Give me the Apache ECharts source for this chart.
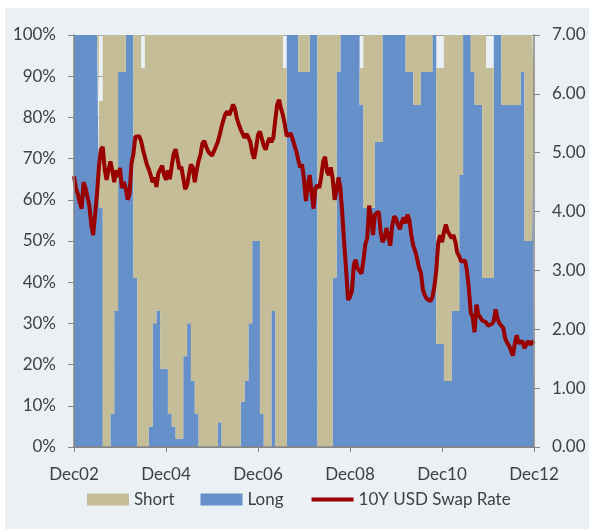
<!DOCTYPE html>
<html>
<head>
<meta charset="utf-8">
<script src="https://cdn.jsdelivr.net/npm/echarts@6/dist/echarts.min.js"></script>
<style>
  html, body { margin: 0; padding: 0; background: #ffffff; }
  #chart { position: absolute; left: 5px; top: 8px; width: 584px; height: 521px; }
</style>
</head>
<body>
<div id="chart"></div>
<script>
// monthly positioning share (%), Dec02 .. Dec12
const longShare = [
  100, 100, 100, 100, 100, 100, 100, 58, 0, 0,
  8, 33, 91, 91, 100, 100, 41, 0, 0, 0,
  5, 30, 33, 19, 19, 8, 5, 2, 2, 22,
  30, 16, 8, 0, 0, 0, 0, 0, 6, 0,
  0, 0, 0, 0, 11, 16, 30, 50, 50, 8,
  0, 0, 33, 0, 0, 0, 100, 100, 100, 91,
  91, 91, 100, 100, 0, 0, 0, 0, 41, 91,
  100, 100, 100, 100, 100, 83, 58, 58, 58, 74,
  74, 100, 100, 100, 100, 100, 100, 91, 91, 83,
  83, 91, 91, 91, 100, 25, 25, 16, 16, 33,
  33, 66, 100, 100, 91, 83, 83, 41, 41, 41,
  100, 100, 83, 83, 83, 83, 83, 91, 50, 50,
  91
];
const shortShare = [
  0, 0, 0, 0, 0, 0, 0, 26, 100, 100,
  92, 67, 9, 9, 0, 0, 59, 100, 92, 100,
  95, 70, 67, 81, 81, 92, 95, 98, 98, 78,
  70, 84, 92, 100, 100, 100, 100, 100, 94, 100,
  100, 100, 100, 100, 89, 84, 70, 50, 50, 92,
  100, 100, 67, 100, 100, 92, 0, 0, 0, 9,
  9, 9, 0, 0, 100, 100, 100, 100, 59, 9,
  0, 0, 0, 0, 0, 9, 42, 42, 42, 26,
  26, 0, 0, 0, 0, 0, 0, 9, 9, 17,
  17, 9, 9, 9, 0, 67, 67, 84, 84, 67,
  67, 34, 0, 0, 9, 17, 17, 59, 51, 51,
  0, 0, 17, 17, 17, 17, 17, 9, 50, 50,
  9
];
// 10Y USD swap rate, twice a month, Dec02 .. Dec12
const swapRate = [
  4.60, 4.40, 4.30, 4.15, 4.05, 4.50, 4.40, 4.25, 4.10, 3.78,
  3.60, 3.62, 4.30, 4.76, 5.05, 5.10, 4.72, 4.54, 4.71, 4.85,
  4.70, 4.50, 4.70, 4.59, 4.74, 4.40, 4.50, 4.40, 4.20, 4.30,
  4.82, 4.98, 5.27, 5.30, 5.28, 5.20, 5.05, 5.02, 4.80, 4.72,
  4.62, 4.50, 4.58, 4.42, 4.65, 4.68, 4.78, 4.62, 4.54, 4.70,
  4.55, 4.78, 4.98, 5.06, 4.90, 4.72, 4.76, 4.57, 4.38, 4.45,
  4.63,
  4.80, 4.75, 4.50, 4.70, 4.86, 4.97, 5.16, 5.20, 5.10, 5.02,
  5.05, 4.95, 4.98, 5.10, 5.18, 5.30, 5.44, 5.56, 5.66, 5.70,
  5.64, 5.72, 5.82, 5.74, 5.58, 5.48, 5.39, 5.32, 5.25, 5.32,
  5.26, 5.18, 5.00, 4.90, 5.08, 5.30, 5.36, 5.24, 5.12, 5.05,
  5.17, 5.25, 5.18, 5.25, 5.55, 5.82, 5.90, 5.75, 5.64, 5.48,
  5.28, 5.26, 5.33, 5.24, 5.24, 5.02, 4.88, 4.75, 4.80, 4.55,
  4.18, 4.45, 4.62, 4.31, 4.05, 4.40, 4.45, 4.40, 4.60, 4.85,
  4.93, 4.68, 4.62, 4.75, 4.55, 4.20, 4.36, 4.58, 4.40, 3.95,
  3.45, 3.00, 2.50, 2.55, 2.65, 3.10, 3.18, 3.03, 3.05, 2.95,
  3.17, 3.44, 3.55, 4.10, 3.90, 3.60, 3.95, 3.92, 4.00, 3.65,
  3.48, 3.55, 3.72, 3.58, 3.42, 3.75, 3.92, 3.88, 3.78, 3.70,
  3.82, 3.90, 3.80, 3.95, 3.85, 3.60, 3.42, 3.33, 3.20, 3.05,
  2.96, 2.68, 2.58, 2.52, 2.55, 2.48, 2.55, 2.72, 3.00, 3.46,
  3.60, 3.48, 3.65, 3.78, 3.66, 3.65, 3.55, 3.60, 3.48, 3.30,
  3.24, 3.15, 3.12, 3.17, 3.00, 2.70, 2.28, 2.21, 1.95, 2.42,
  2.25, 2.25, 2.15, 2.12, 2.12, 2.06, 2.04, 2.09, 2.14, 2.34,
  2.18, 2.10, 2.06, 2.02, 1.84, 1.77, 1.72, 1.64, 1.55, 1.76,
  1.90, 1.76, 1.78, 1.80, 1.68, 1.70, 1.80, 1.74, 1.76, 1.80
];
const monthNames = ['Jan', 'Feb', 'Mar', 'Apr', 'May', 'Jun', 'Jul', 'Aug', 'Sep', 'Oct', 'Nov', 'Dec'];
const months = longShare.map((v, i) => {
  const n = 11 + i;
  return monthNames[n % 12] + String(2 + Math.floor(n / 12)).padStart(2, '0');
});
const halfMonths = swapRate.map((v, i) => 'h' + i);

const textColor = '#404040';
const axisColor = '#868686';
const font = 'Lato';

const chart = echarts.init(document.getElementById('chart'));
chart.setOption({
  backgroundColor: '#eaf0f4',
  animation: false,
  textStyle: { fontFamily: font },
  grid: { left: 69, top: 27, width: 460, height: 412 },
  legend: {
    left: 77,
    top: 478,
    itemWidth: 42,
    itemHeight: 12,
    itemGap: 26,
    textStyle: { color: textColor, fontSize: 17, fontFamily: font },
    data: [
      { name: 'Short', icon: 'rect' },
      { name: 'Long', icon: 'rect' },
      { name: '10Y USD Swap Rate', itemStyle: { opacity: 0 }, lineStyle: { width: 4 } }
    ]
  },
  xAxis: [
    {
      type: 'category',
      data: months,
      boundaryGap: false,
      z: 10,
      axisLine: { lineStyle: { color: axisColor, width: 1.5 } },
      axisTick: { interval: 23, length: 5, lineStyle: { color: axisColor } },
      axisLabel: { interval: 23, margin: 19, color: textColor, fontSize: 17, fontFamily: font },
      splitLine: { show: false }
    },
    {
      type: 'category',
      data: halfMonths,
      boundaryGap: false,
      position: 'top',
      z: 10,
      axisLine: { lineStyle: { color: axisColor, width: 1 } },
      axisTick: { show: false },
      axisLabel: { show: false },
      splitLine: { show: false }
    }
  ],
  yAxis: [
    {
      type: 'value',
      position: 'left',
      min: 0,
      max: 100,
      interval: 10,
      z: 10,
      axisLine: { show: true, lineStyle: { color: axisColor, width: 1.5 } },
      axisTick: { show: true, length: 6, lineStyle: { color: axisColor } },
      axisLabel: { formatter: '{value}%', margin: 18, color: textColor, fontSize: 17, fontFamily: font },
      splitLine: { show: false }
    },
    {
      type: 'value',
      position: 'right',
      min: 0,
      max: 7,
      interval: 1,
      z: 10,
      axisLine: { show: true, lineStyle: { color: axisColor, width: 1.5 } },
      axisTick: { show: true, length: 6, lineStyle: { color: axisColor } },
      axisLabel: {
        formatter: v => v.toFixed(2),
        margin: 18, color: textColor, fontSize: 17, fontFamily: font
      },
      splitLine: { show: false }
    },
    {
      type: 'value',
      position: 'left',
      min: 0,
      max: 100,
      interval: 10,
      axisLine: { show: false },
      axisTick: { show: false },
      axisLabel: { show: false },
      splitLine: { show: true, lineStyle: { color: '#a6a6a6' } }
    }
  ],
  series: [
    {
      name: 'Long',
      type: 'line',
      stack: 'share',
      step: 'middle',
      data: longShare,
      symbol: 'none',
      lineStyle: { width: 0 },
      itemStyle: { color: '#6690ca' },
      areaStyle: { color: '#6690ca', opacity: 1 },
      emphasis: { disabled: true }
    },
    {
      name: 'Short',
      type: 'line',
      stack: 'share',
      step: 'middle',
      data: shortShare,
      symbol: 'none',
      lineStyle: { width: 0 },
      itemStyle: { color: '#c4bd97' },
      areaStyle: { color: '#c4bd97', opacity: 1 },
      emphasis: { disabled: true }
    },
    {
      name: '10Y USD Swap Rate',
      type: 'line',
      xAxisIndex: 1,
      yAxisIndex: 1,
      data: swapRate,
      symbol: 'none',
      z: 5,
      lineStyle: { color: '#990000', width: 4 },
      itemStyle: { color: '#990000' },
      emphasis: { disabled: true }
    }
  ]
});
</script>
</body>
</html>
